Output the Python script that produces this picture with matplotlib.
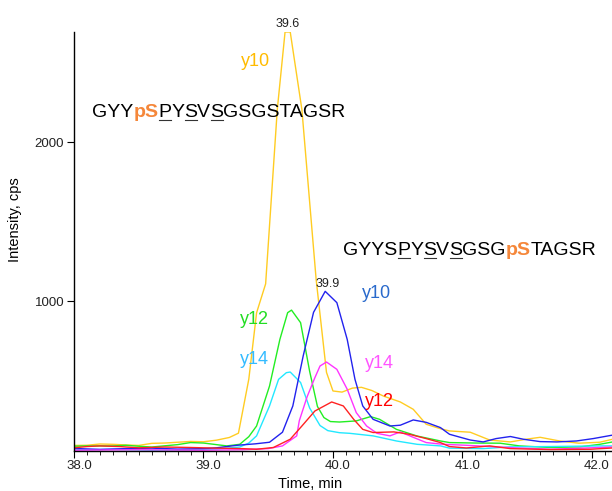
import matplotlib
matplotlib.use("Agg")
import matplotlib.pyplot as plt
from matplotlib.lines import Line2D
from matplotlib.transforms import ScaledTranslation
from matplotlib.ticker import MultipleLocator

plt.rcParams["font.family"] = ["Liberation Sans", "DejaVu Sans"]

# y10 (yellow), GYYpSPYSVSGSGSTAGSR
y10a_t = [38.00, 38.10, 38.20, 38.30, 38.40, 38.50, 38.60, 38.70, 38.80, 38.90, 39.00, 39.10,
          39.20, 39.27, 39.35, 39.41, 39.48, 39.57, 39.63, 39.67, 39.76, 39.87, 39.95, 40.00,
          40.07, 40.15, 40.22, 40.30, 40.39, 40.52, 40.62, 40.72, 40.83, 40.90, 41.06, 41.21,
          41.37, 41.50, 41.60, 41.75, 41.90, 42.06, 42.16]
y10a_i = [95, 96, 104, 102, 98, 95, 108, 110, 115, 120, 118, 128,
          145, 172, 511, 928, 1110, 2205, 2692, 2692, 2205, 1138, 554, 437,
          430, 455, 460, 440, 405, 368, 322, 228, 200, 186, 178, 129,
          117, 135, 146, 123, 109, 115, 134]

# y12 (green), GYYpSPYSVSGSGSTAGSR
y12a_t = [38.00, 38.10, 38.30, 38.40, 38.50, 38.60, 38.80, 38.90, 39.00, 39.10, 39.18, 39.28,
          39.35, 39.41, 39.51, 39.59, 39.65, 39.68, 39.75, 39.82, 39.88, 39.93, 39.98, 40.05,
          40.18, 40.29, 40.36, 40.49, 40.65, 40.83, 40.90, 41.10, 41.29, 41.44, 41.68, 41.91,
          42.06, 42.16]
y12a_i = [90, 92, 92, 96, 90, 85, 100, 113, 110, 100, 92, 102,
          150, 217, 468, 761, 929, 945, 866, 560, 340, 270, 245, 242,
          249, 276, 259, 196, 154, 123, 113, 110, 109, 92, 82, 86,
          102, 117]

# y14 (cyan), GYYpSPYSVSGSGSTAGSR
y14a_t = [38.00, 38.30, 38.60, 38.90, 39.10, 39.28, 39.35, 39.41, 39.51, 39.58, 39.64, 39.67,
          39.75, 39.82, 39.90, 39.96, 40.05, 40.13, 40.31, 40.49, 40.65, 40.83, 40.90, 41.16,
          41.37, 41.68, 42.06, 42.16]
y14a_i = [68, 70, 65, 68, 72, 85, 110, 155, 343, 510, 552, 556,
          490, 330, 220, 188, 175, 171, 155, 123, 102, 92, 78, 75,
          86, 88, 92, 92]

# y10 (blue), GYYSPYSVSGSGpSTAGSR
y10b_t = [38.00, 38.20, 38.40, 38.60, 38.80, 39.00, 39.10, 39.26, 39.40, 39.51, 39.61, 39.69,
          39.77, 39.85, 39.94, 40.03, 40.11, 40.17, 40.23, 40.31, 40.44, 40.52, 40.62, 40.72,
          40.83, 40.90, 41.06, 41.16, 41.26, 41.37, 41.47, 41.60, 41.73, 41.88, 42.01, 42.16]
y10b_i = [76, 70, 75, 78, 72, 75, 80, 96, 105, 115, 178, 343,
          657, 931, 1063, 992, 761, 510, 343, 259, 217, 222, 255, 240,
          207, 165, 129, 117, 138, 151, 134, 119, 117, 123, 138, 160]

# y14 (magenta), GYYSPYSVSGSGpSTAGSR
y14b_t = [38.00, 38.50, 39.00, 39.30, 39.50, 39.61, 39.72, 39.74, 39.80, 39.86, 39.90, 39.95,
          40.03, 40.11, 40.18, 40.26, 40.34, 40.44, 40.52, 40.62, 40.72, 40.85, 41.03, 41.42,
          41.68, 42.06, 42.16]
y14b_i = [65, 68, 65, 68, 75, 92, 155, 250, 400, 520, 594, 619,
          573, 448, 301, 217, 171, 155, 180, 146, 113, 102, 96, 79,
          71, 82, 85]

# y12 (red), GYYSPYSVSGSGpSTAGSR
y12b_t = [38.00, 38.10, 38.20, 38.35, 38.50, 38.70, 38.90, 39.10, 39.30, 39.41, 39.54, 39.67,
          39.76, 39.86, 39.99, 40.08, 40.16, 40.23, 40.31, 40.47, 40.59, 40.72, 40.83, 40.90,
          41.03, 41.21, 41.37, 41.68, 41.99, 42.16]
y12b_i = [80, 88, 92, 88, 80, 85, 82, 78, 75, 71, 82, 134,
          217, 311, 368, 343, 259, 196, 176, 180, 165, 138, 113, 88,
          79, 92, 75, 69, 71, 79]

W, H = 612, 491
fig = plt.figure(figsize=(W / 100, H / 100), dpi=100)
ax = fig.add_axes([74 / W, 1 - 451 / H, (W - 74) / W, (451 - 32) / H])

ax.plot(y10a_t, y10a_i, color="#ffcc22", lw=1.0)
ax.plot(y12a_t, y12a_i, color="#22ee22", lw=1.0)
ax.plot(y14a_t, y14a_i, color="#22e8ff", lw=1.0)
ax.plot(y10b_t, y10b_i, color="#2222ee", lw=1.0)
ax.plot(y14b_t, y14b_i, color="#ff33ff", lw=1.0)
ax.plot(y12b_t, y12b_i, color="#ff2222", lw=1.0)

ax.set_xlim(38.0, 42.155)
ax.set_ylim(60, 2692)
ax.set_xticks([38.0, 39.0, 40.0, 41.0, 42.0])
ax.set_xticklabels(["38.0", "39.0", "40.0", "41.0", "42.0"])
ax.xaxis.set_minor_locator(MultipleLocator(0.1))
ax.set_yticks([1000, 2000])
ax.set_yticklabels(["1000", "2000"])
ax.tick_params(axis="both", which="major", length=5, width=0.8, labelsize=9.5, colors="black",
               labelcolor="#222222")
ax.tick_params(axis="x", which="minor", length=3, width=0.6)
ax.tick_params(axis="x", pad=1.5)
ax.tick_params(axis="y", pad=2)
for lab in ax.get_xticklabels():
    lab.set_transform(lab.get_transform() + ScaledTranslation(5 / 100, 0, fig.dpi_scale_trans))
for s in ["top", "right"]:
    ax.spines[s].set_visible(False)
for s in ["left", "bottom"]:
    ax.spines[s].set_linewidth(1.0)


def px(x, y):
    return x / W, 1 - y / H


fig.text(*px(15, 220), "Intensity, cps", rotation=90, ha="center", va="center", fontsize=10.5)
fig.text(*px(310, 484), "Time, min", ha="center", va="center", fontsize=10.5)

# peak apex labels
fig.text(*px(288, 27), "39.6", ha="center", va="baseline", fontsize=9, color="#222222")
fig.text(*px(328, 287), "39.9", ha="center", va="baseline", fontsize=9, color="#222222")

# fragment labels
frag = [("y10", 255, 61, "#ffbb00"), ("y12", 254, 320, "#22dd22"), ("y14", 254, 360, "#33bbff"),
        ("y10", 376, 293, "#2a6acc"), ("y14", 379, 363, "#ff55ff"), ("y12", 379, 401, "#ff0000")]
for txt, x, y, c in frag:
    fig.text(*px(x, y), txt, ha="center", va="center", fontsize=13, color=c)

# peptide sequences: (text, color, bold, underline)
seq1 = [("GYY", "black", False, False), ("pS", "#f5873a", True, False), ("P", "black", False, True),
        ("Y", "black", False, False), ("S", "black", False, True), ("V", "black", False, False),
        ("S", "black", False, True), ("GSGSTAGSR", "black", False, False)]
seq2 = [("GYYS", "black", False, False), ("P", "black", False, True), ("Y", "black", False, False),
        ("S", "black", False, True), ("V", "black", False, False), ("S", "black", False, True),
        ("GSG", "black", False, False), ("pS", "#f5873a", True, False), ("TAGSR", "black", False, False)]

renderer = fig.canvas.get_renderer()


def draw_seq(parts, x0, base):
    x = x0
    for s, c, b, u in parts:
        t = fig.text(x / W, 1 - base / H, s, ha="left", va="baseline", fontsize=14, color=c,
                     fontweight="bold" if b else "normal")
        bb = t.get_window_extent(renderer)
        if u:
            yl = (H - base - 3) / H
            fig.add_artist(Line2D([bb.x0 / W + 0.001, bb.x1 / W - 0.001], [yl, yl],
                                  color="#333333", lw=0.8))
        x += bb.width


draw_seq(seq1, 92, 117)
draw_seq(seq2, 343, 255)

fig.savefig("out.png", dpi=100)
